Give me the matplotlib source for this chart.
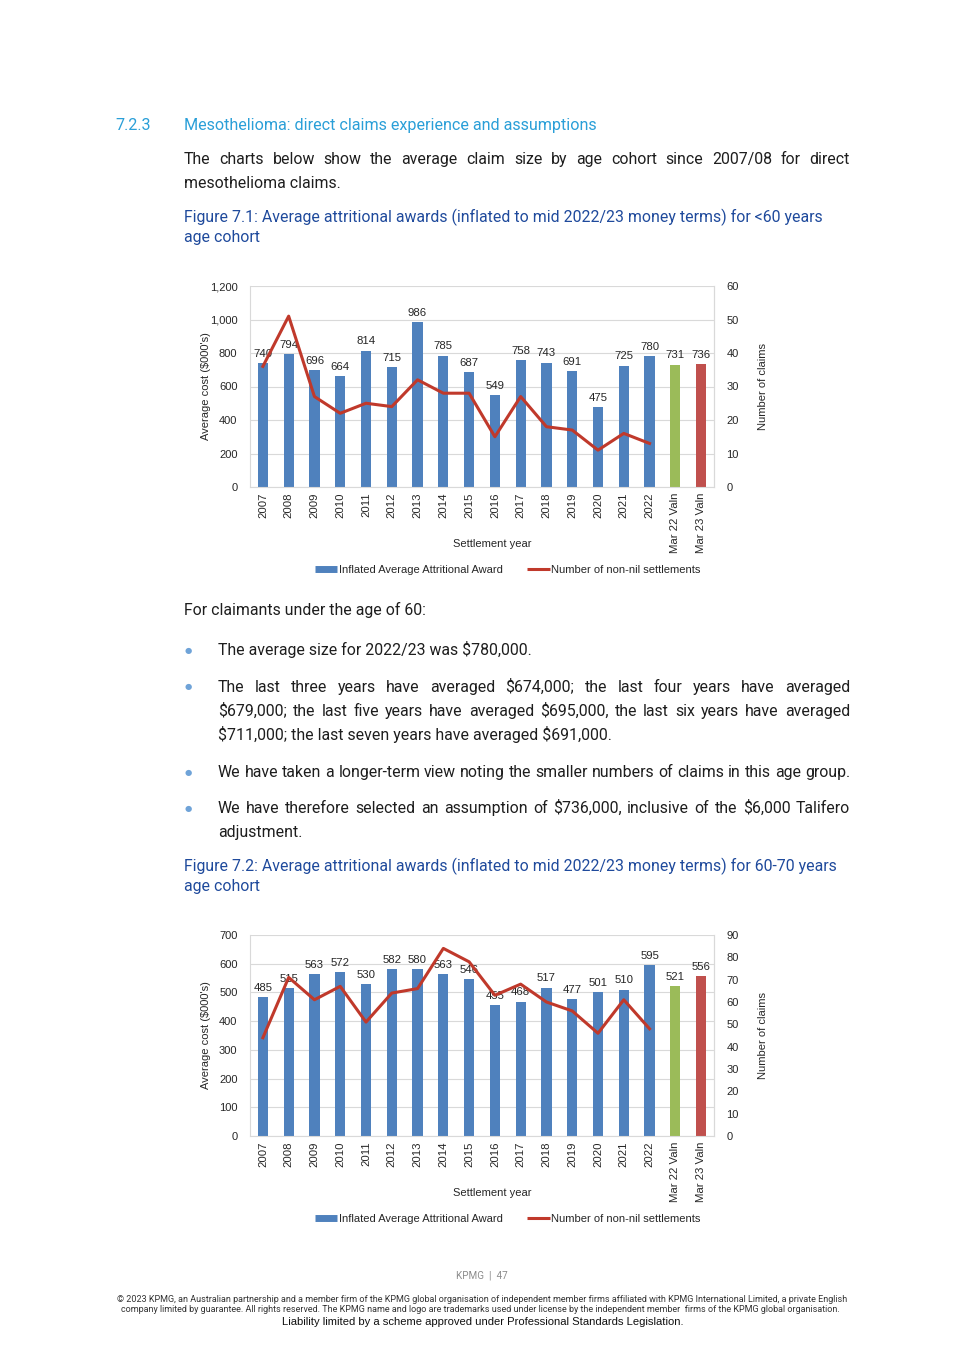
import matplotlib
matplotlib.use('Agg')
import matplotlib.pyplot as plt
from matplotlib import font_manager
from matplotlib.lines import Line2D
from matplotlib.ticker import FuncFormatter, MultipleLocator

plt.rcParams['text.parse_math'] = False

# ---------------- data ----------------
categories = ['2007', '2008', '2009', '2010', '2011', '2012', '2013', '2014', '2015',
              '2016', '2017', '2018', '2019', '2020', '2021', '2022',
              'Mar 22 Valn', 'Mar 23 Valn']
under60_award = [740, 794, 696, 664, 814, 715, 986, 785, 687, 549, 758, 743, 691, 475,
                 725, 780, 731, 736]
under60_settlements = [36, 51, 27, 22, 25, 24, 32, 28, 28, 15, 27, 18, 17, 11, 16, 13]
age6070_award = [485, 515, 563, 572, 530, 582, 580, 563, 546, 455, 468, 517, 477, 501,
                 510, 595, 521, 556]
age6070_settlements = [44, 71, 61, 67, 51, 64, 66, 84, 78, 63, 68, 60, 56, 46, 61, 48]

bar_label = 'Inflated Average Attritional Award'
line_label = 'Number of non-nil settlements'

# ---------------- styling ----------------
W, H = 965, 1365
names = {f.name for f in font_manager.fontManager.ttflist}
BODY = 'Liberation Sans Narrow' if 'Liberation Sans Narrow' in names else 'Roboto'
CHART = 'Liberation Sans'
BLUE = '#4F81BD'
GREEN = '#9BBB59'
RED = '#C0504D'
LINE = '#C0392B'
HEAD_C = '#2A9FD8'
CAP_C = '#1F4A9C'
TXT_C = '#1E1E1E'
GRID_C = '#D9D9D9'

fig = plt.figure(figsize=(W / 100, H / 100), dpi=100)
fig.patch.set_facecolor('white')
renderer = fig.canvas.get_renderer()


def fx(x):
    return x / W


def fy(y):
    return 1 - y / H


def measure(s, **kw):
    t = fig.text(0, 0, s, **kw)
    w = t.get_window_extent(renderer).width
    t.remove()
    return w


def fit_size(s, family, width, **kw):
    w = measure(s, family=family, fontsize=10, **kw)
    return 10 * width / w


def put(s, x, y, x1=None, **kw):
    if x1 is None:
        fig.text(fx(x), fy(y), s, ha='left', va='baseline', **kw)
        return
    words = s.split(' ')
    ws = [measure(w, **kw) for w in words]
    gap = (x1 - x - sum(ws)) / (len(words) - 1)
    cx = x
    for w, wd in zip(words, ws):
        fig.text(fx(cx), fy(y), w, ha='left', va='baseline', **kw)
        cx += wd + gap


body_fs = fit_size('We have taken a longer-term view noting the smaller numbers of claims in this age group.',
                   BODY, 632)
head_fs = fit_size('Mesothelioma: direct claims experience and assumptions', BODY, 414)
body = dict(family=BODY, fontsize=body_fs, color=TXT_C)
cap = dict(family=BODY, fontsize=body_fs, color=CAP_C)
head = dict(family=BODY, fontsize=head_fs, color=HEAD_C)

# heading
put('7.2.3', 115, 130, **head)
put('Mesothelioma: direct claims experience and assumptions', 184, 130, **head)
put('The charts below show the average claim size by age cohort since 2007/08 for direct',
    184, 164, 850, **body)
put('mesothelioma claims.', 184, 188, **body)
put('Figure 7.1: Average attritional awards (inflated to mid 2022/23 money terms) for <60 years',
    184, 222, **cap)
put('age cohort', 184, 242, **cap)

put('For claimants under the age of 60:', 184, 615, **body)
bullets_y = [650, 687, 772, 808]
for by in bullets_y:
    fig.text(fx(188), fy(by), '\u25cf', ha='center', va='center', color='#6FA3D8',
             fontsize=6, family='DejaVu Sans')
put('The average size for 2022/23 was $780,000.', 218, 655, **body)
put('The last three years have averaged $674,000; the last four years have averaged',
    218, 692, 850, **body)
put('$679,000; the last five years have averaged $695,000, the last six years have averaged',
    218, 716, 850, **body)
put('$711,000; the last seven years have averaged $691,000.', 218, 740, **body)
put('We have taken a longer-term view noting the smaller numbers of claims in this age group.',
    218, 777, 850, **body)
put('We have therefore selected an assumption of $736,000, inclusive of the $6,000 Talifero',
    218, 813, 850, **body)
put('adjustment.', 218, 837, **body)
put('Figure 7.2: Average attritional awards (inflated to mid 2022/23 money terms) for 60-70 years',
    184, 871, **cap)
put('age cohort', 184, 891, **cap)

# footer
fig.text(fx(482), fy(1276), 'KPMG  |  47', ha='center', va='center', family=BODY,
         fontsize=body_fs * 0.62, color='#8C8C8C')
c1 = ('\u00a9 2023 KPMG, an Australian partnership and a member firm of the KPMG global organisation of '
      'independent member firms affiliated with KPMG International Limited, a private English')
c2 = ('company limited by guarantee. All rights reserved. The KPMG name and logo are trademarks used '
      'under license by the independent member  firms of the KPMG global organisation.')
c3 = 'Liability limited by a scheme approved under Professional Standards Legislation.'
fs1 = fit_size(c1, BODY, 731)
fig.text(fx(482), fy(1300), c1, ha='center', va='center', family=BODY, fontsize=fs1, color='#333333')
fig.text(fx(480), fy(1309), c2, ha='center', va='center', family=BODY, fontsize=fs1, color='#333333')
fs3 = fit_size(c3, CHART, 404)
fig.text(fx(483), fy(1322), c3, ha='center', va='center', family=CHART, fontsize=fs3, color='#111111')


# ---------------- charts ----------------
def chart(top, bottom, awards, counts, ymax, ystep, rmax, rstep):
    ax = fig.add_axes([fx(250), fy(bottom), (714 - 250) / W, (bottom - top) / H])
    x = list(range(len(categories)))
    colors = [BLUE] * (len(categories) - 2) + [GREEN, RED]
    ax.bar(x, awards, width=0.40, color=colors, zorder=2)
    for xi, v in zip(x, awards):
        ax.annotate(str(v), (xi, v), xytext=(0, 3), textcoords='offset points',
                    ha='center', va='bottom', fontsize=8.2, family=CHART, color='#262626',
                    zorder=5)
    ax.set_xlim(-0.5, len(categories) - 0.5)
    ax.set_ylim(0, ymax)
    ax.yaxis.set_major_locator(MultipleLocator(ystep))
    ax.yaxis.set_major_formatter(FuncFormatter(lambda v, p: f'{int(v):,}'))
    ax.set_xticks(x)
    ax.set_xticklabels(categories, rotation=90, fontsize=8.2, family=CHART, color='#262626')
    ax.tick_params(axis='x', length=0, pad=4)
    ax.tick_params(axis='y', length=0, pad=9, labelsize=8, labelcolor='#262626')
    for lab in ax.get_yticklabels():
        lab.set_family(CHART)
    ax.grid(axis='y', color=GRID_C, lw=0.8, zorder=0)
    ax.set_axisbelow(True)
    ax.spines['top'].set_visible(False)
    for s in ['left', 'right', 'bottom']:
        ax.spines[s].set_color(GRID_C)
        ax.spines[s].set_linewidth(0.8)

    ax2 = ax.twinx()
    ax2.plot(x[:len(counts)], counts, color=LINE, lw=2.2, zorder=4)
    ax2.set_ylim(0, rmax)
    ax2.yaxis.set_major_locator(MultipleLocator(rstep))
    ax2.tick_params(axis='y', length=0, pad=9, labelsize=8, labelcolor='#262626')
    for lab in ax2.get_yticklabels():
        lab.set_family(CHART)
    for s in ['top', 'left', 'bottom']:
        ax2.spines[s].set_visible(False)
    ax2.spines['right'].set_color(GRID_C)
    ax2.spines['right'].set_linewidth(0.8)

    mid = (top + bottom) / 2
    fig.text(fx(206), fy(mid), "Average cost ($000's)", rotation=90, ha='center', va='center',
             fontsize=8, family=CHART, color='#262626')
    fig.text(fx(763), fy(mid), 'Number of claims', rotation=90, ha='center', va='center',
             fontsize=8, family=CHART, color='#262626')
    fig.text(fx(492), fy(bottom + 57), 'Settlement year', ha='center', va='center',
             fontsize=8, family=CHART, color='#262626')
    handles = [Line2D([], [], color=BLUE, lw=5, solid_capstyle='butt'),
               Line2D([], [], color=LINE, lw=2.2, solid_capstyle='butt')]
    fig.legend(handles, [bar_label, line_label], loc='center',
               bbox_to_anchor=(fx(508), fy(bottom + 83)), ncol=2, frameon=False,
               prop={'family': CHART, 'size': 8}, handlelength=2.0, handletextpad=0.15,
               columnspacing=2.2, labelcolor='#262626')


chart(286, 487, under60_award, under60_settlements, 1200, 200, 60, 10)
chart(935, 1136, age6070_award, age6070_settlements, 700, 100, 90, 10)

fig.savefig('out.png', dpi=100, facecolor='white')
